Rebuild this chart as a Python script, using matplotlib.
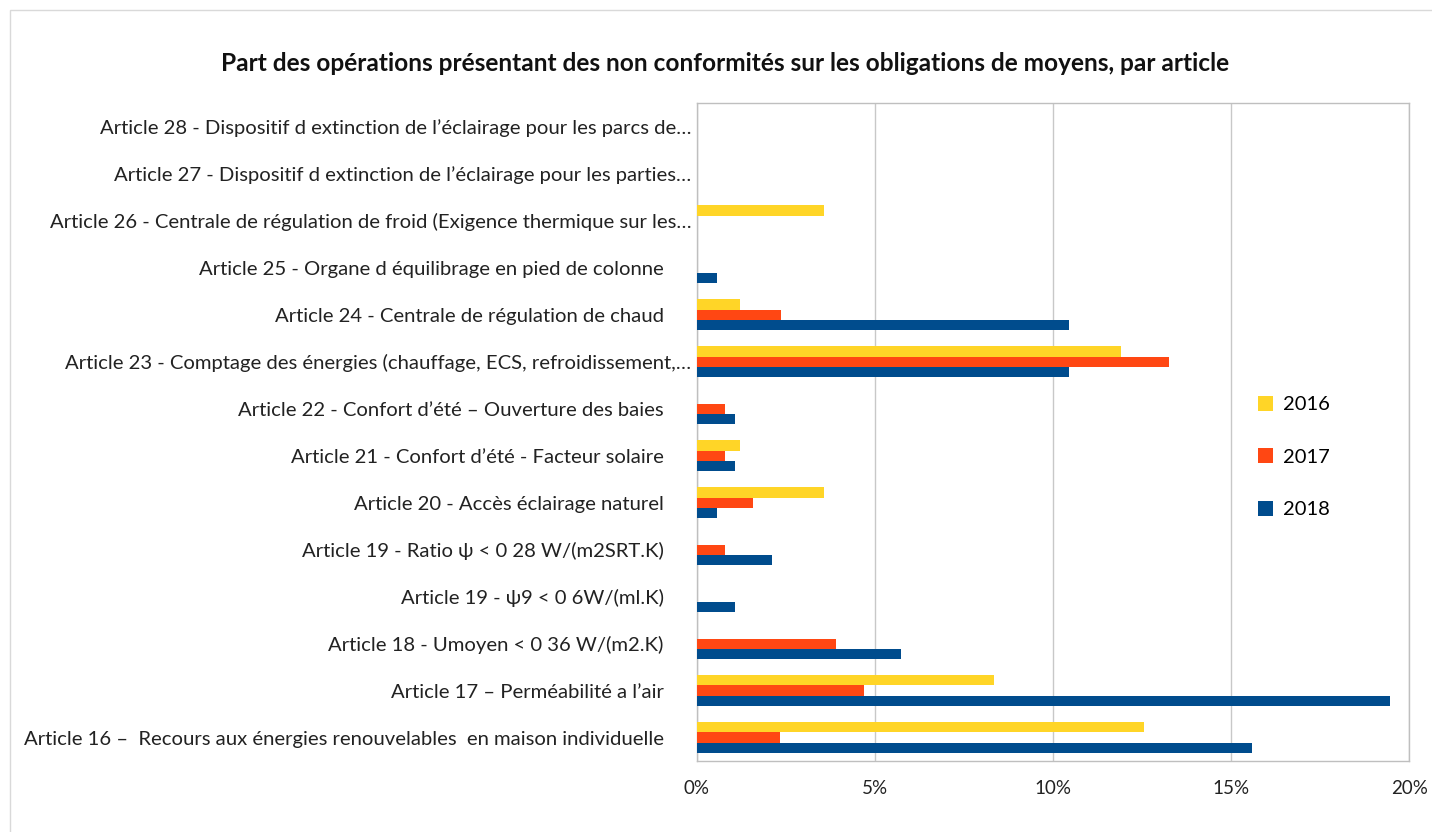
import matplotlib
matplotlib.use("Agg")
import matplotlib.pyplot as plt
import numpy as np
from matplotlib.ticker import FuncFormatter, MultipleLocator
from matplotlib.patches import Rectangle

plt.rcParams['font.family'] = ['Lato', 'DejaVu Sans']

categories = [
    "Article 28 - Dispositif d extinction de l\u2019éclairage pour les parcs de\u2026",
    "Article 27 - Dispositif d extinction de l\u2019éclairage pour les parties\u2026",
    "Article 26 - Centrale de régulation de froid (Exigence thermique sur les\u2026",
    "Article 25 - Organe d équilibrage en pied de colonne",
    "Article 24 - Centrale de régulation de chaud",
    "Article 23 - Comptage des énergies (chauffage, ECS, refroidissement,\u2026",
    "Article 22 - Confort d\u2019été \u2013 Ouverture des baies",
    "Article 21 - Confort d\u2019été - Facteur solaire",
    "Article 20 - Accès éclairage naturel",
    "Article 19 - Ratio \u03c8 < 0 28 W/(m2SRT.K)",
    "Article 19 - \u03c89 < 0 6W/(ml.K)",
    "Article 18 - Umoyen < 0 36 W/(m2.K)",
    "Article 17 \u2013 Perméabilité a l\u2019air",
    "Article 16 \u2013  Recours aux énergies renouvelables  en maison individuelle",
]
truncated = [True, True, True, False, False, True, False, False, False, False, False, False, False, False]

years = ["2016", "2017", "2018"]
v2016 = [0, 0, 3.57, 0, 1.2, 11.9, 0, 1.2, 3.57, 0, 0, 0, 8.33, 12.55]
v2017 = [0, 0, 0, 0, 2.36, 13.27, 0.8, 0.8, 1.57, 0.8, 0, 3.91, 4.7, 2.33]
v2018 = [0, 0, 0, 0.55, 10.45, 10.45, 1.08, 1.08, 0.55, 2.1, 1.08, 5.74, 19.45, 15.6]

colors = ["#FFD527", "#FF4713", "#004C8D"]

fig = plt.figure(figsize=(14.32, 8.32), dpi=100)
fig.patches.append(Rectangle((0.007, -0.01), 1.0, 0.998, transform=fig.transFigure,
                             fill=False, edgecolor="#D9D9D9", linewidth=1.0))
ax = fig.add_axes([0.4867, 0.0853, 0.9840 - 0.4867, 0.876 - 0.0853])

y = np.arange(len(categories))
h = 0.215
series = [v2016, v2017, v2018]
for i, (vals, col, lab) in enumerate(zip(series, colors, years)):
    ax.barh(y + (i - 1) * h, vals, height=h, color=col, label=lab, zorder=3)

ax.set_ylim(len(categories) - 0.5, -0.5)
ax.set_xlim(0, 20)
ax.xaxis.set_major_locator(MultipleLocator(5))
ax.xaxis.set_major_formatter(FuncFormatter(lambda v, p: f"{int(v)}%"))
ax.set_yticks(y)
ax.set_yticklabels(categories)
ax.grid(axis="x", color="#C8C8C8", linewidth=1.0, zorder=0)
ax.tick_params(axis="y", length=0, labelsize=14.6, colors="#222222")
ax.tick_params(axis="x", length=0, labelsize=13.5, colors="#222222", pad=14)
for tick, tr in zip(ax.yaxis.get_major_ticks(), truncated):
    tick.set_pad(4 if tr else 24)
for sp in ax.spines.values():
    sp.set_color("#BFBFBF")
    sp.set_linewidth(1.0)

ax.legend(loc="center left", bbox_to_anchor=(0.762, 0.462), frameon=False,
          handlelength=0.75, handleheight=0.75, handletextpad=0.5,
          labelspacing=1.75, fontsize=14.5)

fig.text(0.506, 0.924, "Part des opérations présentant des non conformités sur les obligations de moyens, par article",
         ha="center", va="center", fontsize=17.6, fontweight="bold", color="#111111")

fig.savefig("out.png", dpi=100)
